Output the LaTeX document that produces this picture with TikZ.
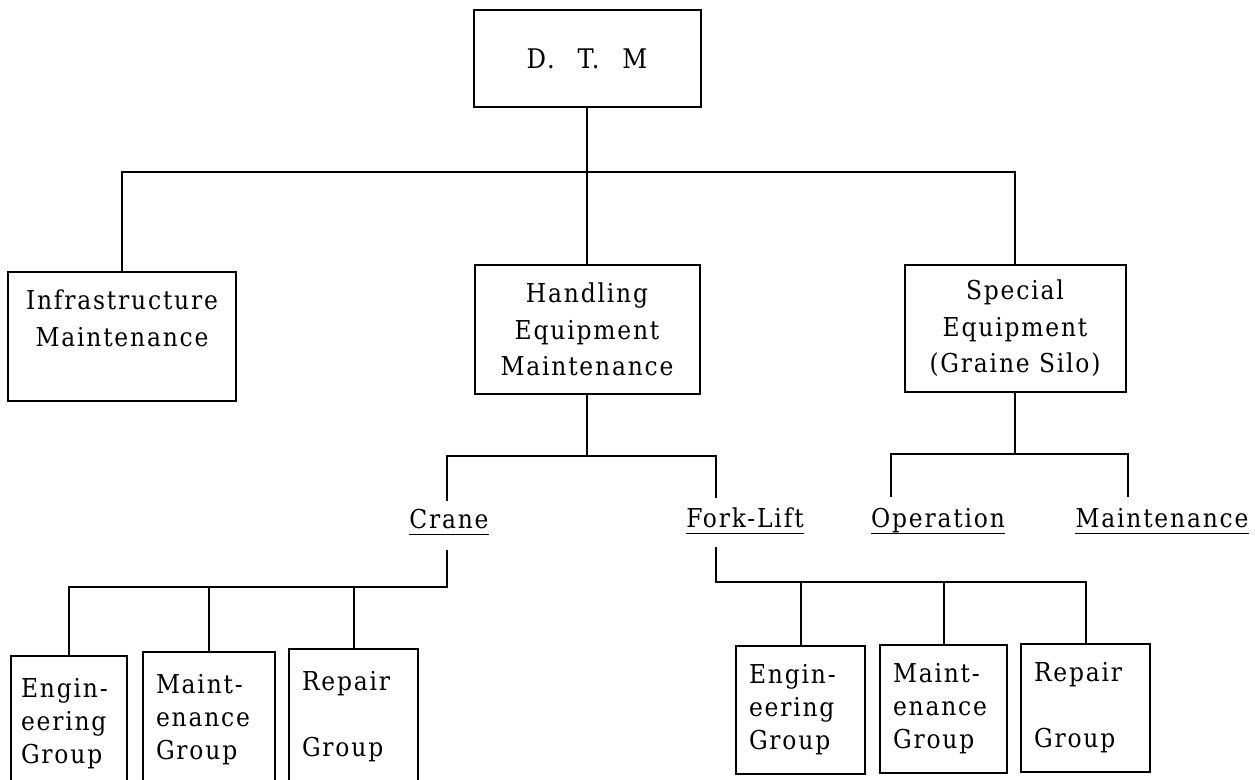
\documentclass[tikz,border=0pt]{standalone}
\usepackage{fontspec}
\setmainfont{DejaVu Serif Condensed}[LetterSpace=7]
\begin{document}
\begin{tikzpicture}[x=1pt,y=-1pt,
  every node/.style={font=\fontsize{26}{36.5}\selectfont},
  box/.style={draw,line width=2pt,inner sep=0pt,align=center},
  gbox/.style={draw,line width=2pt,inner xsep=13pt,inner ysep=0pt,align=left,anchor=north west,font=\fontsize{26}{33}\selectfont},
  conn/.style={line width=2pt},
  lbl/.style={inner sep=0pt,text height=19pt,text depth=6.5pt,anchor=base},
  uline/.style={line width=1.4pt}]
\useasboundingbox (0,0) rectangle (1255,779);
\fill[white] (0,0) rectangle (1255,779);
% main boxes
\node[box,minimum width=227pt,minimum height=97pt,font=\fontsize{27}{36}\selectfont] (dtm) at (587,58.5) {D.\hspace{0.85em}T.\hspace{0.85em}M};
\node[box,minimum width=228pt,minimum height=129pt] (infra) at (122,336.5) {Infrastructure\\Maintenance\\\mbox{}};
\node[box,minimum width=225pt,minimum height=129pt] (handling) at (587,329.5) {Handling\\Equipment\\Maintenance};
\node[box,minimum width=221pt,minimum height=127pt] (special) at (1015,328.5) {Special\\Equipment\\(Graine Silo)};
% underlined labels
\node[lbl] (crane) at (449,528) {Crane};
\node[lbl] (fork) at (745,527) {Fork-Lift};
\node[lbl] (oper) at (938,527) {Operation};
\node[lbl] (smaint) at (1162,527) {Maintenance};
\foreach \n in {crane,fork,oper,smaint} \draw[uline] (\n.south west) -- (\n.south east);
% group boxes
\node[gbox,minimum width=116pt,text width=96pt,inner xsep=10pt,minimum height=136pt] (ce) at (10,655) {Engin-\\eering\\Group};
\node[gbox,minimum width=132pt,text width=106pt,minimum height=136pt] (cm) at (142,651) {Maint-\\enance\\Group};
\node[gbox,minimum width=129pt,text width=103pt,minimum height=136pt] (cr) at (288,648) {Repair\\\mbox{}\\Group};
\node[gbox,minimum width=129pt,text width=103pt,minimum height=128pt] (fe) at (735,645) {Engin-\\eering\\Group};
\node[gbox,minimum width=127pt,text width=101pt,minimum height=128pt] (fm) at (879,644) {Maint-\\enance\\Group};
\node[gbox,minimum width=129pt,text width=103pt,minimum height=128pt] (fr) at (1020,643) {Repair\\\mbox{}\\Group};
% junctions
\coordinate (j1) at (587,172);
\coordinate (j2) at (587,456);
\coordinate (craneUp) at (447,501);
\coordinate (forkUp) at (716,498);
\coordinate (j3) at (1015,454);
\coordinate (operUp) at (891,497);
\coordinate (smaintUp) at (1128,497);
\coordinate (craneDn) at (447,550);
\coordinate (j4) at (447,587);
\coordinate (forkDn) at (716,547);
\coordinate (j5) at (716,582);
% connectors
\draw[conn] (dtm.south) -- (handling.north);
\draw[conn] (infra.north) |- (j1) -| (special.north);
\draw[conn] (handling.south) -- (j2);
\draw[conn] (craneUp) |- (j2) -| (forkUp);
\draw[conn] (special.south) -- (j3);
\draw[conn] (operUp) |- (j3) -| (smaintUp);
\draw[conn] (craneDn) -- (j4) -| (ce.north);
\draw[conn] (j4 -| cm.north) -- (cm.north);
\draw[conn] (j4 -| cr.north) -- (cr.north);
\draw[conn] (forkDn) -- (j5) -| (fr.north);
\draw[conn] (j5 -| fe.north) -- (fe.north);
\draw[conn] (j5 -| fm.north) -- (fm.north);
\end{tikzpicture}
\end{document}
